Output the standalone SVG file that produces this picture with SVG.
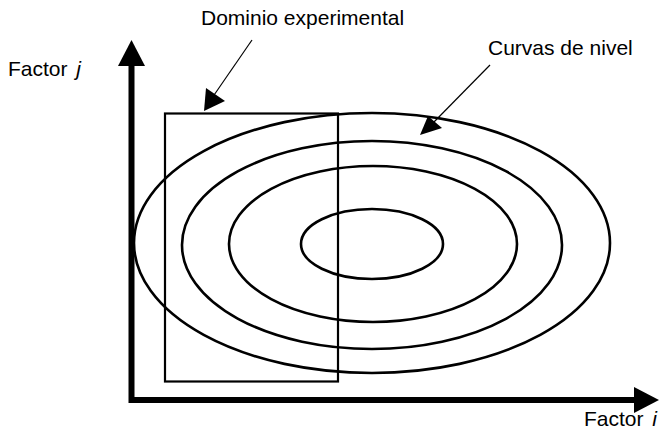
<svg xmlns="http://www.w3.org/2000/svg" width="666" height="431" viewBox="0 0 666 431">
<style>
.t{font-family:"Liberation Sans",Arial,sans-serif;font-size:21px;fill:#000}
.c{fill:none;stroke:#000;stroke-width:2.6}
.ax{stroke:#000;stroke-width:6;fill:none}
.ld{stroke:#000;stroke-width:1.2;fill:none}
</style>
<rect width="666" height="431" fill="#fff"/>
<g id="contours">
<ellipse class="c" cx="372" cy="243" rx="238" ry="130"/>
<ellipse class="c" cx="372" cy="245" rx="190" ry="104"/>
<ellipse class="c" cx="373" cy="244" rx="144" ry="78"/>
<ellipse class="c" cx="372" cy="244" rx="71" ry="35"/>
</g>
<g id="domain">
<rect x="165" y="113.5" width="173" height="268" fill="none" stroke="#000" stroke-width="2.2"/>
</g>
<g id="axes">
<path class="ax" d="M131.5 66 V403 M128.5 400 H634"/>
<polygon points="131.5,40 118,66 145,66"/>
<polygon points="659,400 634,387 634,413"/>
</g>
<g id="connectors">
<line class="ld" x1="252" y1="40" x2="212" y2="98"/>
<polygon points="204,111 206,88 225,101"/>
<line class="ld" x1="490" y1="65" x2="432" y2="124"/>
<polygon points="420,135 428,116 442,128"/>
</g>
<g id="labels">
<text class="t" x="201" y="25">Dominio experimental</text>
<text class="t" x="488" y="55">Curvas de nivel</text>
<text class="t" x="8" y="76">Factor <tspan font-style="italic" dx="3">j</tspan></text>
<text class="t" x="584" y="426">Factor <tspan font-style="italic" dx="3">i</tspan></text>
</g>
</svg>
